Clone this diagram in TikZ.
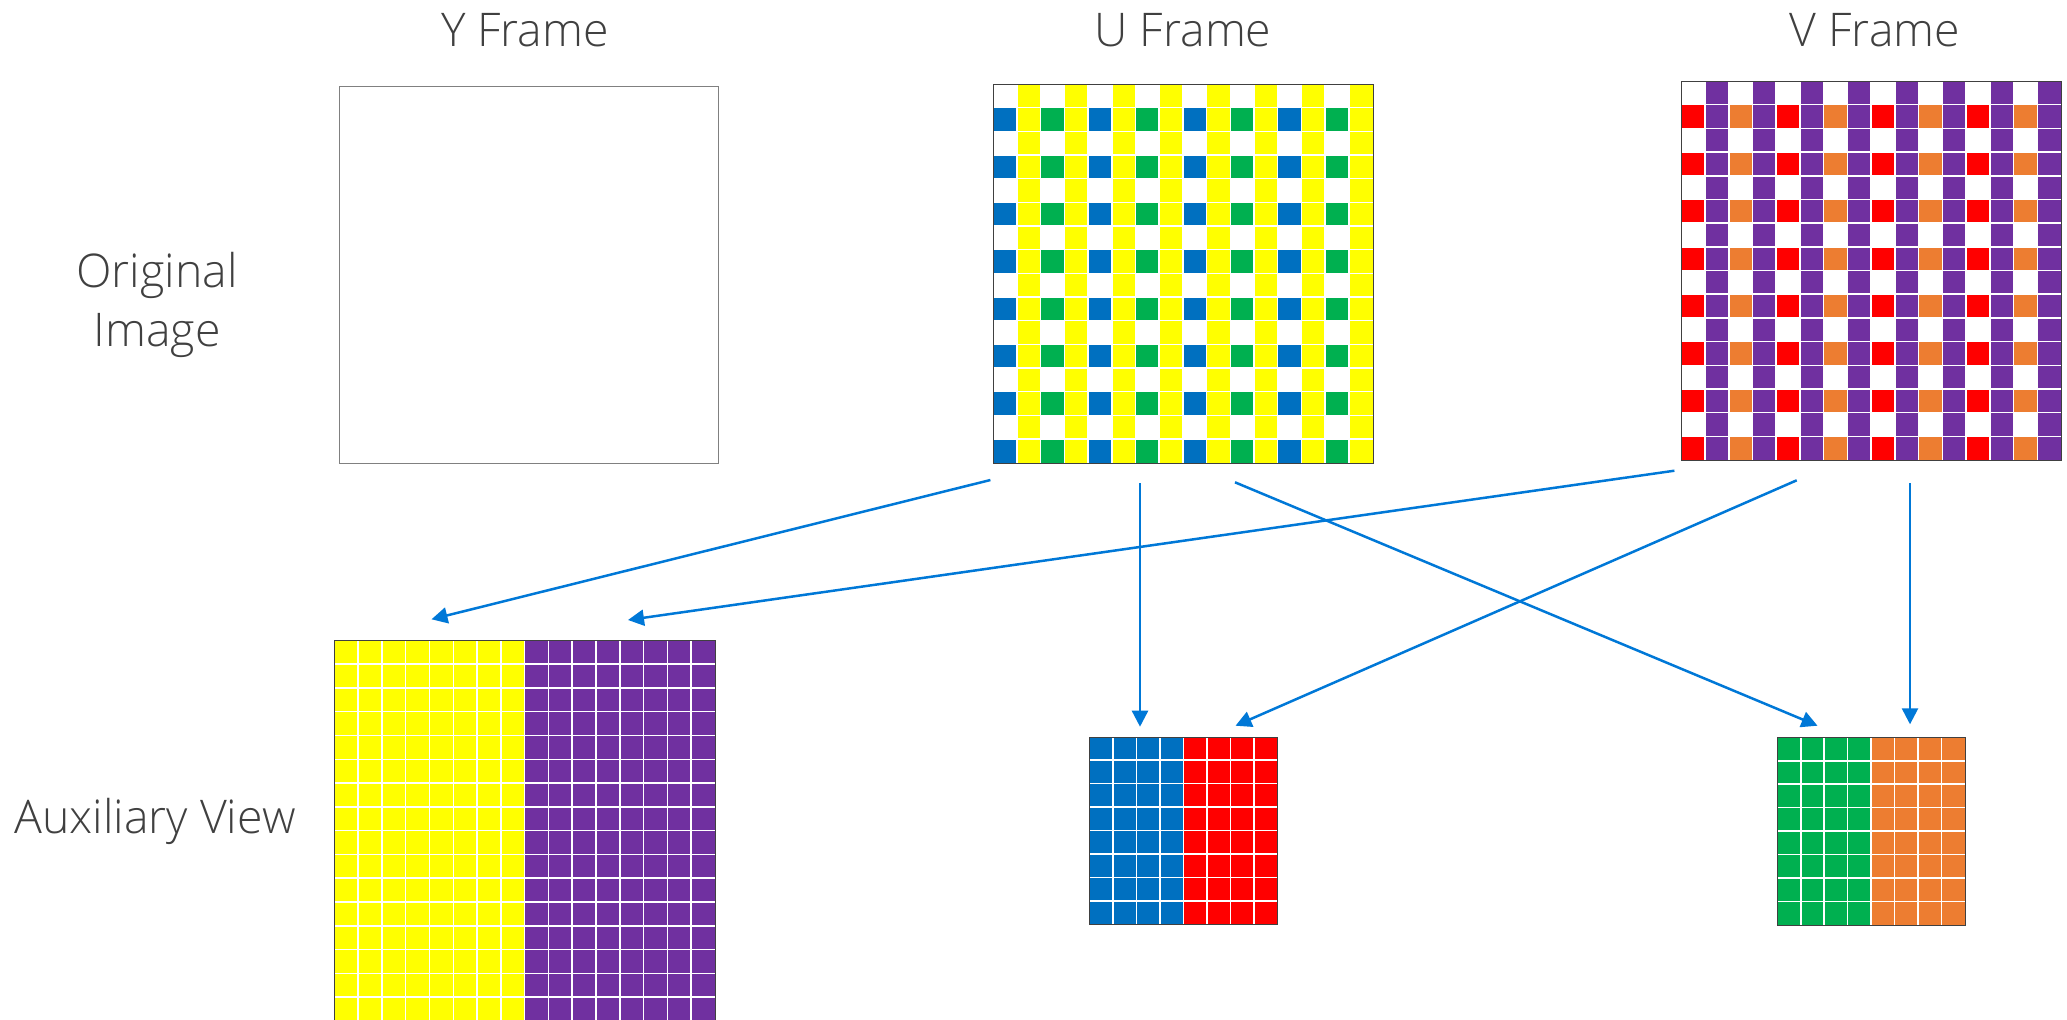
\documentclass[tikz,border=0pt]{standalone}
\usepackage{fontspec}
\setmainfont{Open Sans}[UprightFont={* Light}]
\usetikzlibrary{arrows.meta}
\definecolor{cyellow}{HTML}{FFFF00}
\definecolor{cblue}{HTML}{0070C0}
\definecolor{cgreen}{HTML}{00B050}
\definecolor{cpurple}{HTML}{7030A0}
\definecolor{cred}{HTML}{FF0000}
\definecolor{corange}{HTML}{ED7D31}
\definecolor{arrowblue}{HTML}{0078D7}
\definecolor{txt}{HTML}{404040}
\newcommand{\mygrid}[7]{%
 \foreach \i in {1,...,#4}{\draw[gridline] ({#1+\i*#3},{#2}) -- ({#1+\i*#3},{#2+#7});}%
 \foreach \i in {1,...,#5}{\draw[gridline] ({#1},{#2+\i*#3}) -- ({#1+#6},{#2+\i*#3});}%
}
\begin{document}
\begin{tikzpicture}[x=0.5pt,y=-0.5pt,
 lbl/.style={text=txt, font=\fontsize{23.2}{29.2}\selectfont, inner sep=0pt},
 conn/.style={arrowblue, line width=1.25pt, -{Triangle[length=8pt,width=8pt]}},
 gridline/.style={white, line width=0.75pt},
 framebox/.style={draw=black!75, line width=0.5pt, inner sep=0pt, anchor=north west},
 yframe/.style={draw=black!50, line width=0.6pt, inner sep=0pt, anchor=north west}
]
\useasboundingbox (0,0) rectangle (2067,1019);

% labels
\node[lbl, anchor=base] (ty) at (525,46.7) {Y Frame};
\node[lbl, anchor=base] (tu) at (1183,46.7) {U Frame};
\node[lbl, anchor=base] (tv) at (1875,46.7) {V Frame};
\node[lbl, align=center, anchor=center] (torig) at (157,305) {Original\\Image};
\node[lbl, anchor=base] (taux) at (155,833) {Auxiliary View};

% Y frame
\node[yframe, minimum width=189.25pt, minimum height=188.65pt] (Y) at (339,85.7) {};

% U frame
\foreach \c in {1,3,...,15} \fill[cyellow] ({993.3+\c*23.7},84) rectangle ++(23.7,378.7);
\foreach \c in {0,4,8,12} \foreach \r in {1,3,...,15} \fill[cblue] ({993.3+\c*23.7},{84+\r*23.67}) rectangle ++(23.7,23.67);
\foreach \c in {2,6,10,14} \foreach \r in {1,3,...,15} \fill[cgreen] ({993.3+\c*23.7},{84+\r*23.67}) rectangle ++(23.7,23.67);
\foreach \i in {1,...,15}{\draw[gridline] ({993.3+\i*23.7},84) -- ({993.3+\i*23.7},462.7);}
\foreach \i in {1,...,15}{\draw[gridline] (993.3,{84+\i*23.67}) -- (1372.7,{84+\i*23.67});}
\node[framebox, minimum width=189.7pt, minimum height=189.35pt] (U) at (993.3,84) {};

% V frame
\foreach \c in {1,3,...,15} \fill[cpurple] ({1681.3+\c*23.73},81) rectangle ++(23.73,379);
\foreach \c in {0,4,8,12} \foreach \r in {1,3,...,15} \fill[cred] ({1681.3+\c*23.73},{81+\r*23.69}) rectangle ++(23.73,23.69);
\foreach \c in {2,6,10,14} \foreach \r in {1,3,...,15} \fill[corange] ({1681.3+\c*23.73},{81+\r*23.69}) rectangle ++(23.73,23.69);
\foreach \i in {1,...,15}{\draw[gridline] ({1681.3+\i*23.73},81) -- ({1681.3+\i*23.73},460);}
\foreach \i in {1,...,15}{\draw[gridline] (1681.3,{81+\i*23.69}) -- (2061,{81+\i*23.69});}
\node[framebox, minimum width=189.85pt, minimum height=189.5pt] (V) at (1681.3,81) {};

% Auxiliary view: Y
\fill[cyellow] (334.3,640.3) rectangle (524.65,1021);
\fill[cpurple] (524.65,640.3) rectangle (715,1021);
\mygrid{334.3}{640.3}{23.79}{15}{15}{380.7}{380.7}
\node[framebox, minimum width=190.35pt, minimum height=190.35pt] (AY) at (334.3,640.3) {};

% Auxiliary view: U (blue/red)
\fill[cblue] (1089.3,736.7) rectangle (1183.3,924.3);
\fill[cred] (1183.3,736.7) rectangle (1277.3,924.3);
\mygrid{1089.3}{736.7}{23.5}{7}{7}{188}{187.6}
\node[framebox, minimum width=94pt, minimum height=93.8pt] (AU) at (1089.3,736.7) {};

% Auxiliary view: V (green/orange)
\fill[cgreen] (1777.3,737.3) rectangle (1871.15,925);
\fill[corange] (1871.15,737.3) rectangle (1965,925);
\mygrid{1777.3}{737.3}{23.46}{7}{7}{187.7}{187.7}
\node[framebox, minimum width=93.85pt, minimum height=93.85pt] (AV) at (1777.3,737.3) {};

% connector end points
\coordinate (a1s) at (990.4,480);   \coordinate (a1e) at (431.5,619.3);
\coordinate (a2s) at (1674.4,470.7); \coordinate (a2e) at (628,620);
\coordinate (a3s) at (1140,483);    \coordinate (a3e) at (1140,726.7);
\coordinate (a4s) at (1235,482.3);  \coordinate (a4e) at (1817.5,725.7);
\coordinate (a5s) at (1796.7,480.3); \coordinate (a5e) at (1235.5,725.7);
\coordinate (a6s) at (1910,483);    \coordinate (a6e) at (1910,724.3);

\draw[conn] (a1s) -- (a1e);
\draw[conn] (a2s) -- (a2e);
\draw[conn] (a3s) -- (a3e);
\draw[conn] (a4s) -- (a4e);
\draw[conn] (a5s) -- (a5e);
\draw[conn] (a6s) -- (a6e);
\end{tikzpicture}
\end{document}
